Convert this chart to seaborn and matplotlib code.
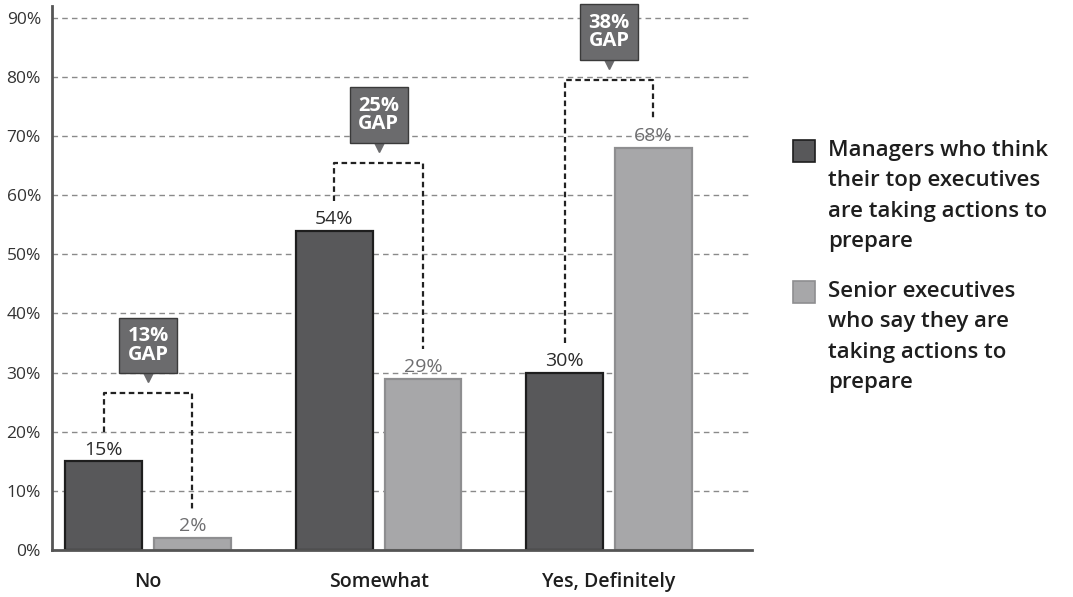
import pandas as pd
import seaborn as sns
import matplotlib.pyplot as plt
from matplotlib.patches import Rectangle

# Chart data
answers = ['No', 'Somewhat', 'Yes, Definitely']
managers = [15, 54, 30]
executives = [2, 29, 68]
gaps = [13, 25, 38]
group_names = ['Managers', 'Executives']
legend_labels = [
    'Managers who think\ntheir top executives\nare taking actions to\nprepare',
    'Senior executives\nwho say they are\ntaking actions to\nprepare',
]
y_ticks = [0, 10, 20, 30, 40, 50, 60, 70, 80, 90]

dark = '#58585a'
light = '#a7a7a9'
box_color = '#6b6b6d'

df = pd.DataFrame({
    'answer': answers * 2,
    'group': [group_names[0]] * 3 + [group_names[1]] * 3,
    'pct': managers + executives,
})

sns.set_style('white')
plt.rcParams['font.family'] = ['Open Sans', 'DejaVu Sans']

fig = plt.figure(figsize=(10.73, 5.97), dpi=100)
ax = fig.add_axes([52 / 1073, 1 - 550 / 597, 700 / 1073, 544 / 597])

sns.barplot(data=df, x='answer', y='pct', hue='group', order=answers,
            hue_order=group_names, palette=[dark, light], width=0.77, gap=0.135,
            saturation=1, legend=False, ax=ax)

# edges and value labels
edge_cols = ['#1e1e1e', '#8e8e90']
label_cols = ['#2b2b2b', '#6e6e70']
for cont, ec, lc in zip(ax.containers, edge_cols, label_cols):
    for p in cont:
        p.set_edgecolor(ec)
        p.set_linewidth(1.6)
    ax.bar_label(cont, fmt='%d%%', padding=2, fontsize=14, color=lc)

ax.set_xlim(-0.417, 2.62)
ax.set_ylim(0, 92)
ax.set_yticks(y_ticks)
ax.set_yticklabels([f'{t}%' for t in y_ticks], fontsize=12.5, color='#333333')
ax.set_xticks(range(len(answers)))
ax.set_xticklabels(answers, fontsize=14, fontweight='semibold', color='#1e1e1e')
ax.tick_params(axis='y', length=0, pad=8)
ax.tick_params(axis='x', length=0, pad=16)
ax.set_xlabel('')
ax.set_ylabel('')

ax.yaxis.grid(True, color='#8a8a8a', linestyle=(0, (4, 3)), linewidth=1)
ax.set_axisbelow(True)
for s in ['top', 'right']:
    ax.spines[s].set_visible(False)
for s in ['left', 'bottom']:
    ax.spines[s].set_color('#555555')
    ax.spines[s].set_linewidth(2)

# gap brackets and callouts
bars_m = list(ax.containers[0])
bars_e = list(ax.containers[1])
for i in range(len(answers)):
    xm = bars_m[i].get_x() + bars_m[i].get_width() / 2
    xe = bars_e[i].get_x() + bars_e[i].get_width() / 2
    top = max(managers[i], executives[i]) + 11.5
    ax.plot([xm, xm, xe, xe], [managers[i] + 5, top, top, executives[i] + 5],
            color='#222222', lw=1.6, linestyle=(0, (2.5, 1.6)), zorder=4)
    ax.plot(i, top + 2.9, marker='v', ms=9, color=box_color, mec=box_color, zorder=5)
    ax.text(i, top + 8.1, f'{gaps[i]}%\nGAP', ha='center', va='center',
            fontsize=14.5, fontweight='bold', color='white', linespacing=0.9,
            bbox=dict(boxstyle='square,pad=0.42', fc=box_color, ec='#3a3a3a', lw=1),
            zorder=6)

# legend drawn at the right
for k, (lab, col, ec) in enumerate(zip(legend_labels, [dark, light], edge_cols)):
    y_top = 140 + k * 141
    fig.add_artist(Rectangle((793 / 1073, 1 - (y_top + 22) / 597), 22 / 1073, 22 / 597,
                             transform=fig.transFigure, fc=col, ec=ec, lw=1.2))
    fig.text(828 / 1073, 1 - (y_top) / 597, lab, ha='left', va='top',
             fontsize=16, fontweight='semibold', color='#1e1e1e', linespacing=1.58)

plt.savefig('out.png', dpi=100)
